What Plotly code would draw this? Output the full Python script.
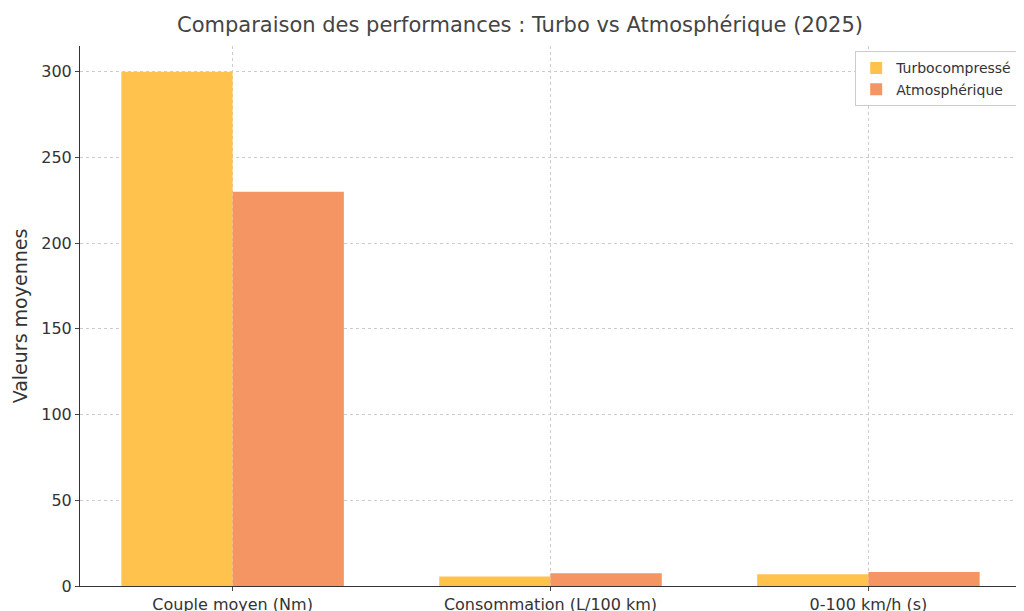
import plotly.graph_objects as go

categories = ["Couple moyen (Nm)", "Consommation (L/100 km)", "0-100 km/h (s)"]
turbo = [300, 5.6, 6.8]
atmo = [230, 7.4, 8.2]

fig = go.Figure()
fig.add_trace(go.Bar(name="Turbocompressé", x=[0, 1, 2], y=turbo,
                     marker=dict(color="#FFC34D", line=dict(width=0))))
fig.add_trace(go.Bar(name="Atmosphérique", x=[0, 1, 2], y=atmo,
                     marker=dict(color="#F59563", line=dict(width=0))))

grid = dict(showgrid=True, gridcolor="#cccccc", griddash="3px,3px", gridwidth=1)
fig.update_layout(
    width=1024, height=611,
    barmode="group", bargap=0.3, bargroupgap=0,
    font=dict(family="DejaVu Sans", size=16, color="#333333"),
    title=dict(text="Comparaison des performances : Turbo vs Atmosphérique (2025)",
               x=0.5, xanchor="center", y=0.985, yanchor="top", font=dict(size=21, color="#444444")),
    plot_bgcolor="white", paper_bgcolor="white",
    margin=dict(l=72, r=11, t=38, b=33, autoexpand=False),
    legend=dict(x=0.997, y=0.99, xanchor="right", yanchor="top",
                bordercolor="#cccccc", borderwidth=1, font=dict(size=14)),
    xaxis=dict(tickvals=[0, 1, 2], ticktext=categories, range=[-0.48, 2.48],
               showline=True, linecolor="#333333", ticks="outside", ticklen=4,
               automargin=False, **grid),
    yaxis=dict(range=[0, 315], tickvals=[0, 50, 100, 150, 200, 250, 300],
               title=dict(text="Valeurs moyennes", standoff=8),
               showline=True, linecolor="#333333", ticks="outside", ticklen=4,
               automargin=False, zeroline=False, **grid),
)
fig.write_html("out.html")
